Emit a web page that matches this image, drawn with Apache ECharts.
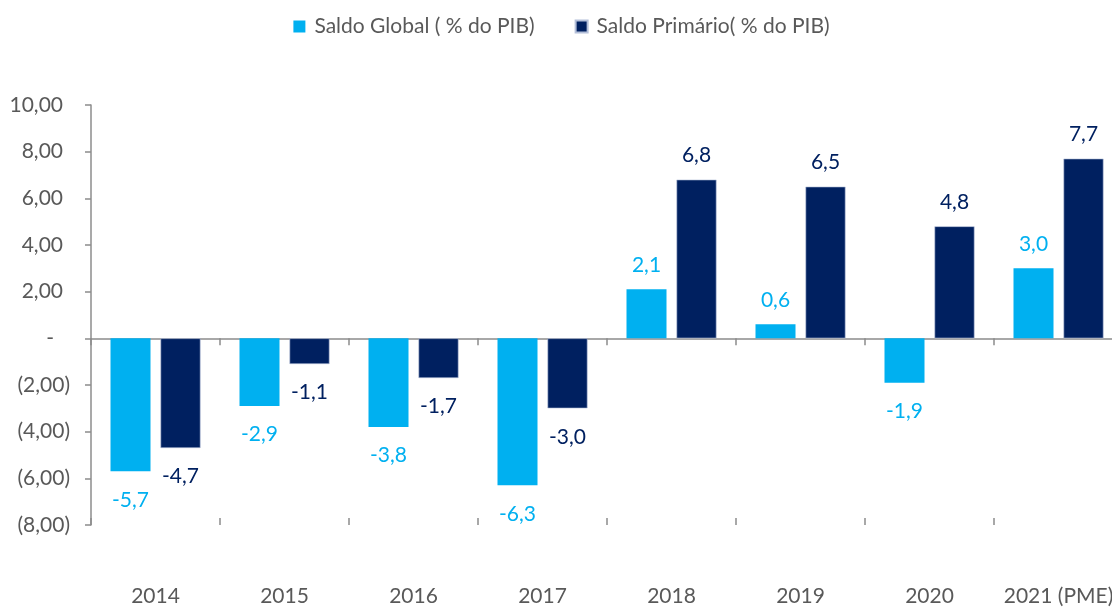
<!DOCTYPE html>
<html>
<head>
<meta charset="utf-8">
<script src="https://cdn.jsdelivr.net/npm/echarts@6/dist/echarts.min.js"></script>
<style>
  html, body { margin: 0; padding: 0; background: #fff; overflow: hidden; }
  #chart { width: 1123px; height: 607px; }
</style>
</head>
<body>
<div id="chart"></div>
<script>
var categories = ['2014', '2015', '2016', '2017', '2018', '2019', '2020', '2021 (PME)'];
var saldoGlobal = [-5.7, -2.9, -3.8, -6.3, 2.1, 0.6, -1.9, 3.0];
var saldoPrimario = [-4.7, -1.1, -1.7, -3.0, 6.8, 6.5, 4.8, 7.7];
var seriesNames = ['Saldo Global ( % do PIB)', 'Saldo Primário( % do PIB)'];

var fontFam = "Lato, 'Open Sans', sans-serif";
var grey = '#595959';

function fmtLabel(v) {
  return v.toFixed(1).replace('.', ',');
}
// formato contábil: (2,00) para negativos, "-" para zero
function fmtAxis(v) {
  if (v === 0) return '{z|-}';
  var s = Math.abs(v).toFixed(2).replace('.', ',');
  return v < 0 ? '(' + s + ')' : '{p|' + s + '}';
}
function withLabelPos(arr) {
  return arr.map(function (v) {
    return { value: v, label: { position: v < 0 ? 'bottom' : 'top', distance: v < 0 ? 18 : 14 } };
  });
}

var myChart = echarts.init(document.getElementById('chart'));
var options = {
  animation: false,
  textStyle: { fontFamily: fontFam },
  legend: {
    top: 11,
    left: 'center',
    itemWidth: 12,
    itemHeight: 12,
    itemGap: 40,
    icon: 'rect',
    textStyle: { fontSize: 21, color: grey, fontFamily: fontFam, padding: [0, 0, 0, 4] },
    data: seriesNames
  },
  grid: { left: 91, right: 0, top: 105, bottom: 80, containLabel: false },
  xAxis: [
    {
      type: 'category',
      data: categories,
      position: 'bottom',
      axisLine: { onZero: true, lineStyle: { color: '#8c8c8c', width: 1.5 } },
      axisTick: { show: true, inside: false, length: 7, lineStyle: { color: '#8c8c8c', width: 1.5 } },
      axisLabel: { show: false },
      splitLine: { show: false }
    },
    {
      type: 'category',
      data: categories,
      position: 'bottom',
      axisLine: { show: false, onZero: true },
      axisTick: { show: true, inside: true, length: 7, lineStyle: { color: '#8c8c8c', width: 1.5 } },
      axisLabel: { show: false },
      splitLine: { show: false }
    },
    {
      type: 'category',
      data: categories,
      position: 'bottom',
      axisLine: { show: false, onZero: false },
      axisTick: { show: false },
      axisLabel: { show: true, margin: 61, fontSize: 21, color: grey, fontFamily: fontFam, interval: 0 },
      splitLine: { show: false }
    }
  ],
  yAxis: {
    type: 'value',
    min: -8,
    max: 10,
    interval: 2,
    axisLine: { show: true, lineStyle: { color: '#8c8c8c', width: 1.5 } },
    axisTick: { show: true, length: 6, lineStyle: { color: '#8c8c8c', width: 1.5 } },
    axisLabel: {
      formatter: fmtAxis,
      fontSize: 21,
      color: grey,
      margin: 21,
      fontFamily: fontFam,
      rich: {
        p: { fontSize: 21, color: grey, fontFamily: fontFam, padding: [0, 7, 0, 0] },
        z: { fontSize: 21, color: grey, fontFamily: fontFam, padding: [0, 16, 0, 0] }
      }
    },
    splitLine: { show: false }
  },
  series: [
    {
      name: seriesNames[0],
      type: 'bar',
      xAxisIndex: 0,
      data: withLabelPos(saldoGlobal),
      barWidth: 40,
      barGap: '25%',
      itemStyle: { color: '#00B0F0' },
      label: {
        show: true,
        fontSize: 21,
        color: '#00B0F0',
        fontFamily: fontFam,
        formatter: function (p) { return fmtLabel(p.value); }
      }
    },
    {
      name: seriesNames[1],
      type: 'bar',
      xAxisIndex: 0,
      data: withLabelPos(saldoPrimario),
      barWidth: 40,
      barGap: '25%',
      itemStyle: { color: '#002060', borderColor: '#b4bfd9', borderWidth: 0.6 },
      label: {
        show: true,
        fontSize: 21,
        color: '#002060',
        fontFamily: fontFam,
        formatter: function (p) { return fmtLabel(p.value); }
      }
    }
  ]
};
myChart.setOption(options);
</script>
</body>
</html>
